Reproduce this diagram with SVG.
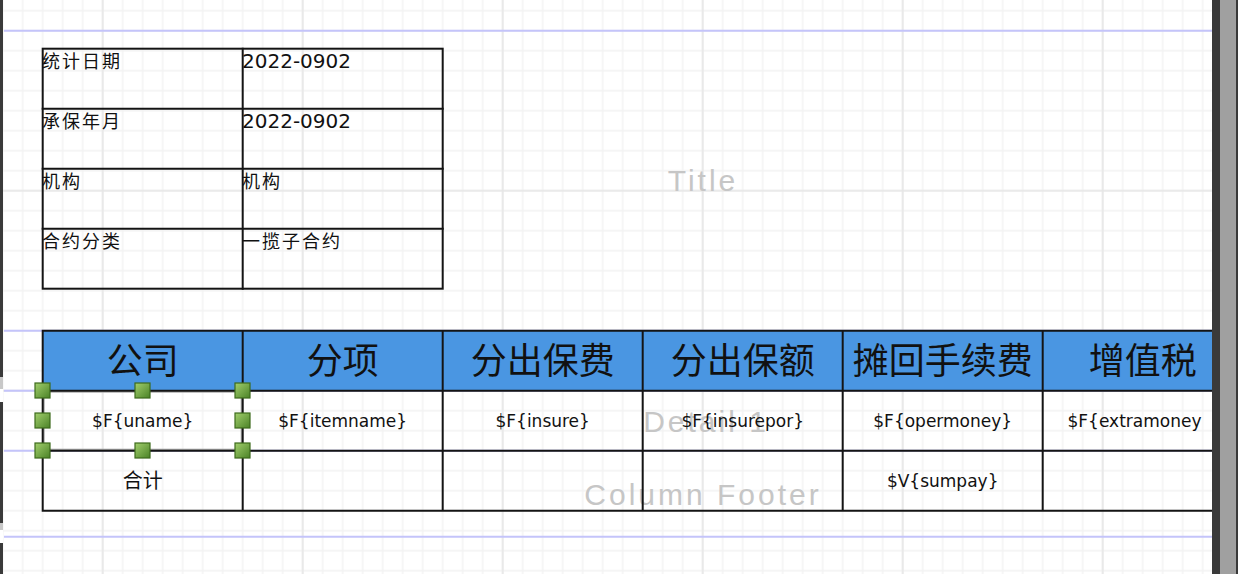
<svg xmlns="http://www.w3.org/2000/svg" width="1238" height="574" viewBox="0 0 1238 574">
<style>
.band{stroke:#c4c4fa;stroke-width:2;fill:none}
.tl{stroke:#141414;stroke-width:2;fill:none;stroke-linecap:square}
.bl{font-family:'Liberation Sans','Noto Sans CJK SC',sans-serif;font-size:30px;fill:#c6c6c6;letter-spacing:3px;text-anchor:middle}
.pt{font-family:'DejaVu Sans','Noto Sans CJK SC',sans-serif;font-size:20px;fill:#111}
.pc{font-family:'Noto Sans CJK SC',sans-serif;font-size:18px;letter-spacing:2px;fill:#111}
.hd{font-family:'Noto Sans CJK SC',sans-serif;font-size:36px;fill:#111;text-anchor:middle}
.dt{font-family:'DejaVu Sans','Noto Sans CJK SC',sans-serif;font-size:17px;fill:#111;text-anchor:middle}
.dc{font-family:'Noto Sans CJK SC',sans-serif;font-size:20px;fill:#111;text-anchor:middle}
.hdl{fill:url(#hg);stroke:#3c6a1c;stroke-width:1.2}
</style>
<defs>
<pattern id="minor" width="20" height="20" patternUnits="userSpaceOnUse" x="-7.3" y="0.7">
<path d="M10 0V20M0 10H20" stroke="#f2f2f2" stroke-width="1.3" fill="none"/>
</pattern>
<pattern id="major" width="200" height="200" patternUnits="userSpaceOnUse" x="2.7" y="90.7">
<path d="M100 0V200M0 100H200" stroke="#e6e6e6" stroke-width="1.6" fill="none"/>
</pattern>
<linearGradient id="hg" x1="0" y1="0" x2="1" y2="1">
<stop offset="0" stop-color="#a3d06e"/>
<stop offset="1" stop-color="#4a8226"/>
</linearGradient>
</defs>

<g id="canvas">
<rect x="0" y="0" width="1238" height="574" fill="#ffffff"/>
<rect x="3" y="0" width="1209" height="574" fill="url(#minor)"/>
<rect x="3" y="0" width="1209" height="574" fill="url(#major)"/>
<rect x="0" y="0" width="3" height="377" fill="#3a3a3a"/>
<rect x="0" y="377" width="3" height="12" fill="#c8c8c8"/>
<rect x="0" y="402" width="3" height="121" fill="#3a3a3a"/>
<rect x="0" y="523" width="3" height="7" fill="#c8c8c8"/>
<rect x="0" y="543" width="3" height="31" fill="#3a3a3a"/>
</g>

<g id="bands">
<line class="band" x1="4" y1="30.7" x2="1212" y2="30.7"/>
<line class="band" x1="4" y1="330.7" x2="1212" y2="330.7"/>
<line class="band" x1="4" y1="390.7" x2="1212" y2="390.7"/>
<line class="band" x1="4" y1="450.7" x2="1212" y2="450.7"/>
<line class="band" x1="4" y1="536.7" x2="1212" y2="536.7"/>
<text id="band-title" class="bl" x="703" y="191">Title</text>
<text id="band-detail" class="bl" x="706" y="432">Detail 1</text>
<text id="band-colfooter" class="bl" x="703" y="505">Column Footer</text>
</g>

<g id="param-table">
<rect class="tl" x="42.7" y="48.7" width="400" height="240"/>
<path class="tl" d="M42.7 108.7H442.7M42.7 168.7H442.7M42.7 228.7H442.7M242.7 48.7V288.7"/>
<g id="p-label-1"><text class="pc" x="42" y="68">统计日期</text></g>
<g id="p-value-1"><text class="pt" x="242" y="68">2022-0902</text></g>
<g id="p-label-2"><text class="pc" x="42" y="128">承保年月</text></g>
<g id="p-value-2"><text class="pt" x="242" y="128">2022-0902</text></g>
<g id="p-label-3"><text class="pc" x="42" y="188">机构</text></g>
<g id="p-value-3"><text class="pc" x="242" y="188">机构</text></g>
<g id="p-label-4"><text class="pc" x="42" y="248">合约分类</text></g>
<g id="p-value-4"><text class="pc" x="242" y="248">一揽子合约</text></g>
</g>

<g id="main-table">
<rect x="42.7" y="330.7" width="1170" height="60" fill="#4a96e2"/>
<rect x="43.7" y="391.7" width="198" height="58" fill="none" stroke="#a8a8a8" stroke-width="2"/>
<path class="tl" d="M42.7 330.7H1212M42.7 390.7H1212M42.7 450.7H1212M42.7 510.7H1212M42.7 330.7V510.7M242.7 330.7V510.7M442.7 330.7V510.7M642.7 330.7V510.7M842.7 330.7V510.7M1042.7 330.7V510.7"/>
<g id="h-company"><text class="hd" x="142.7" y="374">公司</text></g>
<g id="h-item"><text class="hd" x="342.7" y="374">分项</text></g>
<g id="h-premium"><text class="hd" x="542.7" y="374">分出保费</text></g>
<g id="h-amount"><text class="hd" x="742.7" y="374">分出保额</text></g>
<g id="h-commission"><text class="hd" x="942.7" y="374">摊回手续费</text></g>
<g id="h-vat"><text class="hd" x="1142.7" y="374">增值税</text></g>
<g id="d-uname"><text class="dt" x="142.7" y="427">$F{uname}</text></g>
<g id="d-itemname"><text class="dt" x="342.7" y="427">$F{itemname}</text></g>
<g id="d-insure"><text class="dt" x="542.7" y="427">$F{insure}</text></g>
<g id="d-insurepor"><text class="dt" x="742.7" y="427">$F{insurepor}</text></g>
<g id="d-opermoney"><text class="dt" x="942.7" y="427">$F{opermoney}</text></g>
<g id="d-extramoney"><text class="dt" x="1067.5" y="427" style="text-anchor:start">$F{extramoney</text></g>
<g id="f-total"><text class="dc" x="142.7" y="488">合计</text></g>
<g id="f-sumpay"><text class="dt" x="942.7" y="487">$V{sumpay}</text></g>
</g>

<g id="selection">
<rect class="hdl" x="35" y="383" width="15" height="15"/>
<rect class="hdl" x="135" y="383" width="15" height="15"/>
<rect class="hdl" x="235" y="383" width="15" height="15"/>
<rect class="hdl" x="35" y="413" width="15" height="15"/>
<rect class="hdl" x="235" y="413" width="15" height="15"/>
<rect class="hdl" x="35" y="443" width="15" height="15"/>
<rect class="hdl" x="135" y="443" width="15" height="15"/>
<rect class="hdl" x="235" y="443" width="15" height="15"/>
</g>

<g id="connectors"></g>

<g id="scrollbar">
<rect x="1212" y="0" width="8" height="574" fill="#3a3a3a"/>
<rect x="1220" y="0" width="16" height="574" fill="#a0a0a0"/>
<rect x="1236" y="0" width="2" height="574" fill="#3a3a3a"/>
</g>
</svg>
